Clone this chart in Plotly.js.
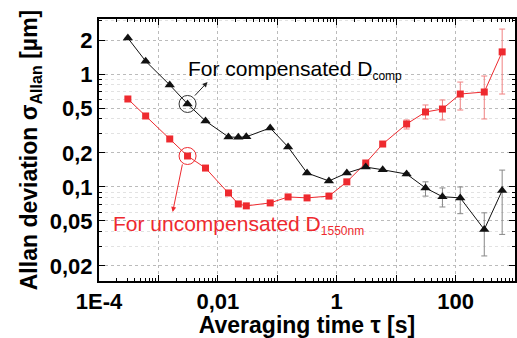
<!DOCTYPE html>
<html><head><meta charset="utf-8">
<script src="https://cdn.plot.ly/plotly-3.0.1.min.js"></script>
<style>html,body{margin:0;padding:0;background:#fff}#chart{width:517px;height:338px}</style>
</head><body><div id="chart"></div>
<script>
var tau = [3.06e-4, 6.1e-4, 1.55e-3, 3.09e-3, 6.2e-3, 0.0151, 0.0221, 0.0301, 0.076, 0.152, 0.317, 0.74, 1.48, 3.08, 5.94, 15.0, 31.2, 60.1, 120, 304, 608];
var comp = [2.08, 1.30, 0.80, 0.543, 0.384, 0.277, 0.275, 0.278, 0.333, 0.226, 0.133, 0.113, 0.133, 0.150, 0.142, 0.130, 0.098, 0.082, 0.080, 0.042, 0.093];
var compErrPlus  = [0,0,0,0,0,0,0,0,0,0,0,0,0,0,0,0.004,0.013,0.016,0.020,0.017,0.048];
var compErrMinus = [0,0,0,0,0,0,0,0,0,0,0,0,0,0,0,0.004,0.015,0.0155,0.022,0.0175,0.055];
var uncomp = [0.601, 0.425, 0.266, 0.188, 0.147, 0.0885, 0.0707, 0.068, 0.0722, 0.0816, 0.080, 0.083, 0.111, 0.163, 0.240, 0.361, 0.461, 0.490, 0.665, 0.693, 1.57];
var uncompErrPlus  = [0,0,0,0,0,0,0,0,0,0,0,0,0,0,0.01,0.031,0.071,0.099,0.184,0.267,0.93];
var uncompErrMinus = [0,0,0,0,0,0,0,0,0,0,0,0,0,0,0.01,0.035,0.061,0.098,0.185,0.293,0.905];
var xTickVals = [1e-4, 1e-3, 1e-2, 1e-1, 1, 10, 100];
var xTickText = ['1E-4', '', '0,01', '', '1', '', '100'];
var yTickVals = [0.02, 0.05, 0.1, 0.2, 0.5, 1, 2];
var yTickText = ['0,02', '0,05', '0,1', '0,2', '0,5', '1', '2'];
var markIdx = 3;

var RED = '#ee2a2f';
var BLK = '#111111';
var FONT = 'Liberation Sans, Arial, sans-serif';

var traces = [
  {x: tau, y: uncomp, type: 'scatter', mode: 'lines+markers',
   line: {color: RED, width: 1}, marker: {symbol: 'square', size: 7, color: RED},
   error_y: {type: 'data', symmetric: false, array: uncompErrPlus, arrayminus: uncompErrMinus,
             color: '#f08080', thickness: 1, width: 3}},
  {x: tau, y: comp, type: 'scatter', mode: 'lines+markers',
   line: {color: BLK, width: 1}, marker: {symbol: 'triangle-up', size: 9, color: BLK},
   error_y: {type: 'data', symmetric: false, array: compErrPlus, arrayminus: compErrMinus,
             color: '#888888', thickness: 1, width: 3}},
  {x: [tau[markIdx]], y: [comp[markIdx]], type: 'scatter', mode: 'markers',
   marker: {symbol: 'circle-open', size: 17, color: '#333', line: {width: 1}}},
  {x: [tau[markIdx]], y: [uncomp[markIdx]], type: 'scatter', mode: 'markers',
   marker: {symbol: 'circle-open', size: 17, color: RED, line: {width: 1}}}
];

var layout = {
  width: 517, height: 338,
  margin: {l: 99, r: 2, t: 19, b: 57},
  showlegend: false,
  paper_bgcolor: '#fff', plot_bgcolor: '#fff',
  font: {family: FONT, color: '#000'},
  xaxis: {
    type: 'log', range: [-4, 3], automargin: false,
    tickmode: 'array', tickvals: xTickVals, ticktext: xTickText,
    ticks: 'inside', ticklen: 6, tickcolor: '#000', tickwidth: 1,
    tickfont: {family: FONT, size: 22, weight: 'bold', color: '#000'},
    showline: true, linecolor: '#000', linewidth: 2, mirror: 'allticks',
    showgrid: true, gridcolor: '#bbbbbb', griddash: 'dot', gridwidth: 1,
    zeroline: false,
    minor: {dtick: 'D1', ticks: 'inside', ticklen: 3, tickcolor: '#000', showgrid: false},
    title: {text: 'Averaging time τ [s]', font: {family: FONT, size: 23, weight: 'bold', color: '#000'}, standoff: 2}
  },
  yaxis: {
    type: 'log', range: [Math.log10(0.0147), Math.log10(3.07)], automargin: false,
    tickmode: 'array', tickvals: yTickVals, ticktext: yTickText,
    ticks: 'inside', ticklen: 6, tickcolor: '#000', tickwidth: 1,
    tickfont: {family: FONT, size: 22, weight: 'bold', color: '#000'},
    showline: true, linecolor: '#000', linewidth: 2, mirror: 'allticks',
    showgrid: true, gridcolor: '#bbbbbb', griddash: 'dot', gridwidth: 1,
    zeroline: false,
    minor: {dtick: 'D1', ticks: 'inside', ticklen: 3, tickcolor: '#000', showgrid: true, gridcolor: '#e2e2e2', griddash: 'dot'},
    title: {text: 'Allan deviation σ<sub>Allan</sub> [µm]', font: {family: FONT, size: 23, weight: 'bold', color: '#000'}, standoff: 6}
  },
  annotations: [
    {x: -2.543, y: 0.035, xref: 'x', yref: 'y', text: 'For compensated D<sub><span style="font-size:12px">comp</span></sub>',
     showarrow: false, xanchor: 'left', yanchor: 'middle',
     font: {family: FONT, size: 21, color: '#000'}},
    {x: -3.799, y: -1.336, xref: 'x', yref: 'y', text: 'For uncompensated D<sub><span style="font-size:12px">1550nm</span></sub>',
     showarrow: false, xanchor: 'left', yanchor: 'middle',
     font: {family: FONT, size: 21, color: RED}},
    {x: -2.174, y: -0.071, xref: 'x', yref: 'y', text: '', showarrow: true,
     ax: -14, ay: 15, arrowhead: 2, arrowsize: 1, arrowwidth: 1, arrowcolor: '#222', standoff: 0},
    {x: -2.760, y: -1.221, xref: 'x', yref: 'y', text: '', showarrow: true,
     ax: 10, ay: -49, arrowhead: 2, arrowsize: 1, arrowwidth: 1, arrowcolor: RED, standoff: 0}
  ]
};

Plotly.newPlot('chart', traces, layout, {staticPlot: true, displayModeBar: false});
</script>
</body></html>
